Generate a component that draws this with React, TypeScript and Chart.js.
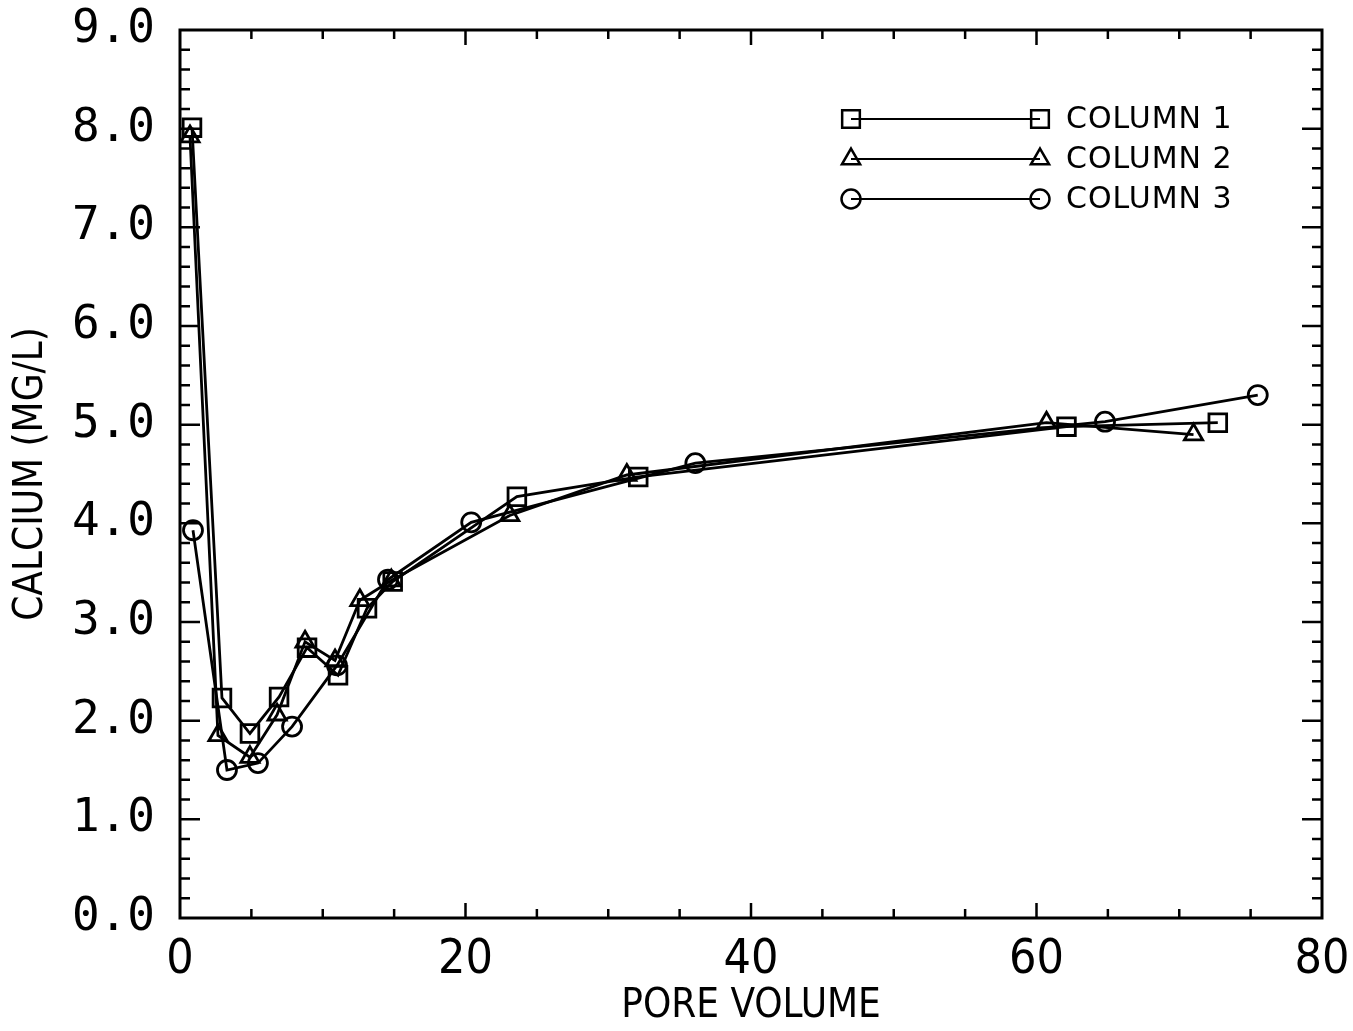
import { useEffect, useRef } from "react";
import { Chart, registerables } from "chart.js";

Chart.register(...registerables);

const seriesNames = ["COLUMN 1", "COLUMN 2", "COLUMN 3"];

const col1X = [0.84, 2.94, 4.9, 6.94, 8.9, 11.07, 13.1, 14.9, 23.6, 32.1, 62.1, 72.7];
const col1Y = [8.01, 2.23, 1.87, 2.24, 2.74, 2.46, 3.14, 3.41, 4.27, 4.47, 4.98, 5.02];

const col2X = [0.7, 2.66, 4.9, 6.8, 8.76, 10.86, 12.6, 14.8, 23.1, 31.3, 60.7, 71.0];
const col2Y = [7.92, 1.85, 1.63, 2.06, 2.8, 2.61, 3.22, 3.42, 4.08, 4.49, 5.02, 4.9];

const col3X = [0.91, 3.29, 5.46, 7.85, 11.0, 14.57, 20.4, 36.1, 64.8, 75.5];
const col3Y = [3.93, 1.5, 1.57, 1.94, 2.56, 3.43, 4.01, 4.61, 5.03, 5.3];

const xMin = 0;
const xMax = 80;
const xMajorStep = 20;
const xMinorStep = 5;
const yMin = 0;
const yMax = 9;
const yMajorStep = 1;
const yMinorStep = 0.2;

const pointStyles = ["rect", "triangle", "circle"] as const;
const pointRadii = [12.5, 10.5, 9.5];

function toPoints(xs: number[], ys: number[]) {
  return xs.map((x, i) => ({ x, y: ys[i] }));
}

function drawMarker(ctx: CanvasRenderingContext2D, style: string, r: number, x: number, y: number) {
  ctx.beginPath();
  if (style === "rect") {
    const s = Math.SQRT1_2 * r;
    ctx.rect(x - s, y - s, 2 * s, 2 * s);
  } else if (style === "triangle") {
    const a = (Math.PI * 2) / 3;
    ctx.moveTo(x, y - r);
    ctx.lineTo(x + Math.sin(a) * r, y - Math.cos(a) * r);
    ctx.lineTo(x + Math.sin(2 * a) * r, y - Math.cos(2 * a) * r);
    ctx.closePath();
  } else {
    ctx.arc(x, y, r, 0, Math.PI * 2);
  }
  ctx.stroke();
}

const framePlugin = {
  id: "frameTicks",
  afterDatasetsDraw(chart: any) {
    const { ctx, chartArea } = chart;
    const xs = chart.scales.x;
    const ys = chart.scales.y;
    ctx.save();
    ctx.strokeStyle = "#000";
    ctx.lineWidth = 3;
    ctx.strokeRect(chartArea.left, chartArea.top, chartArea.right - chartArea.left, chartArea.bottom - chartArea.top);
    ctx.lineWidth = 2.5;
    const nx = Math.round((xMax - xMin) / xMinorStep);
    for (let k = 1; k < nx; k++) {
      const v = xMin + k * xMinorStep;
      const major = Math.abs(v / xMajorStep - Math.round(v / xMajorStep)) < 1e-6;
      const len = major ? 15 : 9;
      const px = xs.getPixelForValue(v);
      ctx.beginPath();
      ctx.moveTo(px, chartArea.bottom);
      ctx.lineTo(px, chartArea.bottom - len);
      ctx.moveTo(px, chartArea.top);
      ctx.lineTo(px, chartArea.top + len);
      ctx.stroke();
    }
    const ny = Math.round((yMax - yMin) / yMinorStep);
    for (let k = 1; k < ny; k++) {
      const v = yMin + k * yMinorStep;
      const major = k % Math.round(yMajorStep / yMinorStep) === 0;
      const len = major ? 20 : 10;
      const py = ys.getPixelForValue(v);
      ctx.beginPath();
      ctx.moveTo(chartArea.left, py);
      ctx.lineTo(chartArea.left + len, py);
      ctx.moveTo(chartArea.right, py);
      ctx.lineTo(chartArea.right - len, py);
      ctx.stroke();
    }
    ctx.restore();
  },
};

const legendPlugin = {
  id: "plotterLegend",
  afterDraw(chart: any) {
    const { ctx } = chart;
    ctx.save();
    ctx.strokeStyle = "#000";
    ctx.fillStyle = "#000";
    const x1 = 851;
    const x2 = 1040;
    const tx = 1066;
    chart.data.datasets.forEach((ds: any, i: number) => {
      const y = 119 + i * 40;
      ctx.lineWidth = 2;
      ctx.beginPath();
      ctx.moveTo(x1, y);
      ctx.lineTo(x2, y);
      ctx.stroke();
      ctx.lineWidth = 2.5;
      drawMarker(ctx, ds.pointStyle, ds.pointRadius, x1, y);
      drawMarker(ctx, ds.pointStyle, ds.pointRadius, x2, y);
      ctx.font = "30px 'DejaVu Sans'";
      ctx.textBaseline = "middle";
      ctx.textAlign = "left";
      try {
        (ctx as any).letterSpacing = "1px";
      } catch (e) {}
      ctx.fillText(ds.label, tx, y + 1);
    });
    ctx.restore();
  },
};

export default function App() {
  const ref = useRef<HTMLCanvasElement | null>(null);
  useEffect(() => {
    document.body.style.margin = "0";
    const canvas = ref.current;
    if (!canvas) return;
    const xsData = [col1X, col2X, col3X];
    const ysData = [col1Y, col2Y, col3Y];
    const chart = new Chart(canvas, {
      type: "scatter",
      data: {
        datasets: seriesNames.map((name, i) => ({
          label: name,
          data: toPoints(xsData[i], ysData[i]),
          showLine: true,
          borderColor: "#000",
          backgroundColor: "rgba(0,0,0,0)",
          borderWidth: 2.8,
          pointStyle: pointStyles[i],
          pointRadius: pointRadii[i],
          pointBorderWidth: 2.8,
          pointBorderColor: "#000",
          pointBackgroundColor: "rgba(0,0,0,0)",
          tension: 0,
        })),
      },
      options: {
        animation: false,
        responsive: true,
        maintainAspectRatio: false,
        layout: { padding: { left: 0, top: 30, right: 31, bottom: 0 } },
        plugins: { legend: { display: false }, tooltip: { enabled: false } },
        scales: {
          x: {
            type: "linear",
            min: xMin,
            max: xMax,
            grid: { display: false, drawTicks: false },
            border: { display: false },
            ticks: {
              stepSize: xMajorStep,
              color: "#000",
              padding: 14,
              font: { family: "'Liberation Sans Narrow', 'DejaVu Sans Condensed', sans-serif", size: 48 },
              callback: (v: any) => String(v),
            },
            title: {
              display: true,
              text: "PORE VOLUME",
              color: "#000",
              font: { family: "'Liberation Sans Narrow', 'DejaVu Sans Condensed', sans-serif", size: 40 },
              padding: { top: 0, bottom: 0 },
            },
            afterFit: (s: any) => {
              s.height = 113;
              s.paddingLeft = 0;
              s.paddingRight = 0;
            },
          },
          y: {
            type: "linear",
            min: yMin,
            max: yMax,
            grid: { display: false, drawTicks: false },
            border: { display: false },
            ticks: {
              stepSize: yMajorStep,
              color: "#000",
              padding: 25,
              font: { family: "'DejaVu Sans Mono', monospace", size: 46 },
              callback: (v: any) => Number(v).toFixed(1),
            },
            title: {
              display: true,
              text: "CALCIUM (MG/L)",
              color: "#000",
              font: { family: "'Liberation Sans Narrow', 'DejaVu Sans Condensed', sans-serif", size: 40 },
              padding: { top: 8, bottom: 0 },
            },
            afterFit: (s: any) => {
              s.width = 180;
              s.paddingTop = 0;
              s.paddingBottom = 0;
            },
          },
        },
      },
      plugins: [framePlugin, legendPlugin],
    });
    return () => chart.destroy();
  }, []);
  return (
    <div style={{ position: "absolute", left: 0, top: 0, width: 1353, height: 1031, background: "#fff" }}>
      <canvas ref={ref} />
    </div>
  );
}
